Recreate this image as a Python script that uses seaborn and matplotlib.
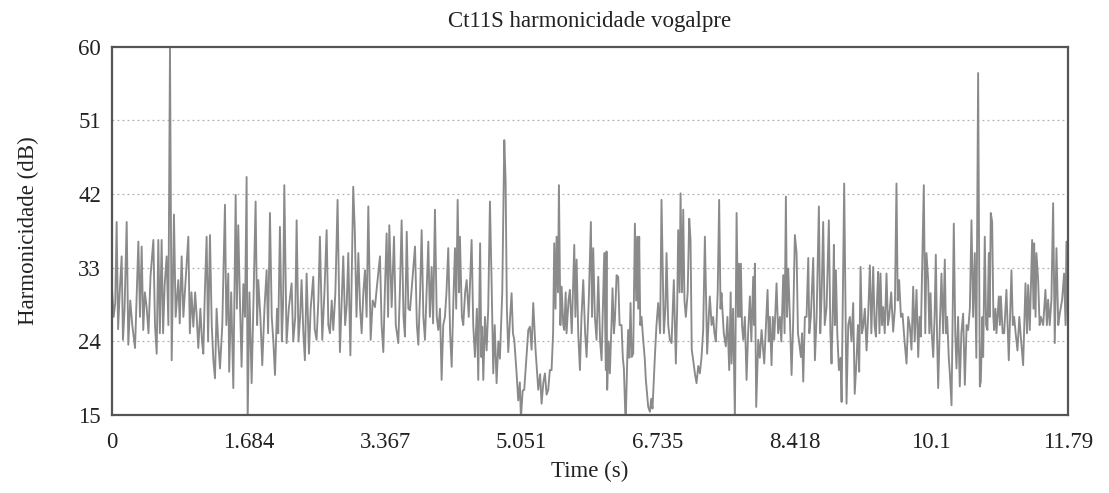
import matplotlib
matplotlib.use("Agg")
import matplotlib.pyplot as plt
import seaborn as sns
import pandas as pd

title = "Ct11S harmonicidade vogalpre"
x_label = "Time (s)"
y_label = "Harmonicidade (dB)"
x_ticks = [0, 1.684, 3.367, 5.051, 6.735, 8.418, 10.1, 11.79]
x_tick_labels = ["0", "1.684", "3.367", "5.051", "6.735", "8.418", "10.1", "11.79"]
y_ticks = [15, 24, 33, 42, 51, 60]

time_s = [
    0.000, 0.020, 0.040, 0.057, 0.075, 0.095, 0.119, 0.135, 0.155, 0.181, 0.201, 0.225, 0.250, 0.284,
    0.305, 0.325, 0.345, 0.366, 0.385, 0.405, 0.427, 0.450, 0.475, 0.510, 0.530, 0.551, 0.571, 0.590,
    0.612, 0.630, 0.650, 0.674, 0.695, 0.715, 0.736, 0.764, 0.785, 0.818, 0.835, 0.859, 0.880, 0.905,
    0.941, 0.960, 0.980, 1.003, 1.025, 1.045, 1.064, 1.090, 1.110, 1.126, 1.145, 1.167, 1.185, 1.208,
    1.230, 1.250, 1.270, 1.290, 1.310, 1.332, 1.360, 1.393, 1.410, 1.434,
    1.445, 1.470, 1.496, 1.525, 1.540, 1.557, 1.575, 1.598, 1.620, 1.640, 1.660, 1.673, 1.695, 1.722,
    1.745, 1.771, 1.790, 1.804, 1.830, 1.853, 1.880, 1.907, 1.925, 1.948, 1.970, 1.990, 2.010, 2.035,
    2.050, 2.071, 2.095, 2.110, 2.125, 2.153, 2.180, 2.215, 2.235, 2.260, 2.277, 2.300, 2.320, 2.338,
    2.360, 2.379, 2.400, 2.429, 2.450, 2.482, 2.500, 2.523, 2.545, 2.564, 2.593, 2.620, 2.647, 2.668,
    2.688, 2.710, 2.729, 2.755, 2.782, 2.811, 2.830, 2.852, 2.875, 2.895, 2.914, 2.940, 2.975,
    2.995, 3.015, 3.038, 3.060, 3.079, 3.100, 3.120, 3.140, 3.161, 3.190, 3.215, 3.243, 3.270, 3.305,
    3.325, 3.346, 3.365, 3.387, 3.405, 3.420, 3.449, 3.478, 3.500, 3.531, 3.550, 3.572, 3.595, 3.613,
    3.635, 3.655, 3.675, 3.700, 3.737, 3.760, 3.778, 3.800, 3.819, 3.840, 3.860, 3.880, 3.901, 3.920,
    3.942, 3.960, 3.983, 4.005, 4.024, 4.045, 4.065, 4.085, 4.106, 4.125, 4.147, 4.170, 4.189, 4.210,
    4.230, 4.245, 4.263, 4.280, 4.291, 4.315, 4.332, 4.355, 4.374, 4.400, 4.435, 4.455, 4.476, 4.500,
    4.517,
    4.540, 4.555, 4.566, 4.579, 4.600, 4.620, 4.640, 4.661, 4.681, 4.702, 4.720, 4.743, 4.765, 4.784,
    4.813, 4.838, 4.854, 4.870, 4.887, 4.910, 4.928, 4.945, 4.961, 4.990, 5.010, 5.030, 5.043, 5.065,
    5.084, 5.110, 5.134, 5.154, 5.175, 5.195, 5.224, 5.257, 5.280, 5.298, 5.320, 5.339, 5.360, 5.380,
    5.400, 5.421, 5.440, 5.454, 5.470, 5.483, 5.500, 5.512, 5.530, 5.545, 5.565, 5.578, 5.595, 5.606,
    5.630, 5.647, 5.670, 5.701, 5.715, 5.730, 5.750, 5.771, 5.790, 5.812, 5.835, 5.853, 5.880, 5.906,
    5.920, 5.935, 5.955, 5.976, 5.997, 6.020, 6.038, 6.071,
    6.090, 6.099, 6.107, 6.125, 6.140, 6.160, 6.173, 6.190, 6.202, 6.223, 6.243, 6.260, 6.284, 6.300,
    6.313, 6.330, 6.338, 6.355, 6.366, 6.380, 6.395, 6.410, 6.428, 6.449, 6.465, 6.477, 6.490, 6.502,
    6.515, 6.531, 6.551, 6.570, 6.584, 6.600, 6.613, 6.634, 6.650, 6.666, 6.695, 6.715, 6.736, 6.760,
    6.777, 6.806, 6.825, 6.839, 6.860, 6.880, 6.901, 6.929, 6.954, 6.970, 6.983, 7.000, 7.012, 7.030,
    7.045, 7.060, 7.077, 7.100, 7.119, 7.135, 7.150, 7.168, 7.190, 7.209, 7.230, 7.250, 7.270, 7.291,
    7.312, 7.340, 7.360, 7.373, 7.395, 7.414, 7.430, 7.447, 7.470, 7.488, 7.505, 7.517, 7.545, 7.570,
    7.590, 7.612,
    7.630, 7.641, 7.660, 7.682, 7.703, 7.720, 7.732, 7.745, 7.756, 7.770, 7.785, 7.805, 7.826, 7.845,
    7.867, 7.885, 7.908, 7.920, 7.929, 7.945, 7.970, 7.990, 8.011, 8.030, 8.044, 8.065, 8.085, 8.100,
    8.114, 8.134, 8.150, 8.167, 8.196, 8.215, 8.237, 8.255, 8.278, 8.295, 8.311, 8.325, 8.340, 8.360,
    8.381, 8.400, 8.422, 8.443, 8.460, 8.471, 8.496, 8.510, 8.525, 8.545, 8.566, 8.587, 8.600, 8.619,
    8.648, 8.669, 8.690, 8.718, 8.735, 8.751, 8.771, 8.790, 8.813, 8.841, 8.860, 8.874, 8.890, 8.903,
    8.915, 8.928, 8.945, 8.965, 8.985, 8.998, 9.030, 9.059, 9.080, 9.100, 9.120, 9.141,
    9.160, 9.182, 9.200, 9.215, 9.232, 9.250, 9.264, 9.285, 9.306, 9.325, 9.347, 9.365, 9.388, 9.405,
    9.421, 9.435, 9.449, 9.465, 9.478, 9.495, 9.511, 9.530, 9.552, 9.570, 9.585, 9.610, 9.634, 9.655,
    9.675, 9.690, 9.708, 9.730, 9.749, 9.775, 9.799, 9.820, 9.840, 9.860, 9.881, 9.900, 9.922, 9.943,
    9.960, 9.975, 10.012, 10.030, 10.045, 10.066, 10.080, 10.095, 10.110, 10.128, 10.145, 10.160,
    10.175, 10.189, 10.210, 10.230, 10.250, 10.271, 10.285, 10.300, 10.320, 10.333, 10.354, 10.382,
    10.400, 10.415, 10.435, 10.456, 10.475, 10.497, 10.518, 10.540, 10.559, 10.580, 10.600, 10.620,
    10.641, 10.660, 10.682, 10.703,
    10.715, 10.735, 10.744, 10.764, 10.780, 10.797, 10.814, 10.825, 10.838, 10.855, 10.870, 10.879,
    10.895, 10.908, 10.937, 10.950, 10.962, 10.985, 11.003, 11.031, 11.060, 11.093, 11.110, 11.126,
    11.145, 11.167, 11.190, 11.208, 11.237, 11.266, 11.285, 11.299, 11.319, 11.348, 11.365, 11.373,
    11.390, 11.401, 11.422, 11.440, 11.455, 11.484, 11.512, 11.530, 11.545, 11.565, 11.586, 11.607,
    11.627, 11.648, 11.670, 11.689, 11.718, 11.742, 11.760, 11.771, 11.790,
]

harmonicity_db = [
    30.5, 27.0, 28.7, 38.6, 25.5, 30.0, 34.4, 24.2, 28.0, 38.6, 23.6, 29.0, 26.0, 23.2,
    30.0, 36.2, 27.0, 35.6, 25.4, 30.0, 28.2, 25.0, 32.0, 36.4, 26.0, 22.5, 36.4, 25.0,
    36.4, 25.0, 31.0, 34.4, 26.0, 60.0, 21.7, 39.5, 27.0, 31.5, 26.2, 34.4, 27.0, 31.0,
    36.8, 25.0, 30.0, 25.8, 30.0, 27.0, 23.2, 28.0, 24.0, 22.5, 30.0, 36.8, 24.0, 37.0,
    26.0, 21.7, 19.5, 28.0, 24.0, 20.7, 26.0, 40.7, 26.0, 32.3,
    20.3, 30.0, 18.3, 41.9, 28.0, 38.2, 30.0, 20.9, 31.0, 27.0, 44.1, 14.2, 30.0, 18.9,
    29.0, 41.1, 26.0, 31.5, 27.0, 21.1, 28.0, 32.7, 25.0, 39.7, 27.0, 24.0, 19.9, 28.0,
    25.0, 38.0, 24.0, 28.5, 43.1, 23.8, 28.0, 31.1, 24.0, 27.0, 38.8, 24.0, 27.0, 31.5,
    25.0, 21.7, 32.3, 22.5, 28.0, 31.9, 25.5, 24.2, 29.0, 36.8, 24.2, 30.0, 37.6, 26.0,
    25.0, 29.0, 25.4, 30.0, 41.3, 22.7, 28.0, 34.4, 26.0, 28.5, 34.8, 22.3, 42.9,
    37.4, 27.0, 34.8, 28.0, 25.0, 30.0, 32.7, 27.0, 40.5, 24.2, 29.0, 28.2, 31.0, 34.4,
    26.0, 22.7, 30.0, 37.2, 27.0, 38.2, 28.2, 36.8, 26.0, 23.8, 30.0, 38.8, 27.0, 24.6,
    37.4, 28.0, 27.8, 31.0, 35.6, 26.0, 23.6, 30.0, 37.6, 27.0, 24.2, 30.0, 36.2, 27.0,
    33.1, 26.2, 40.1, 27.0, 25.4, 28.0, 19.3, 26.0, 27.0, 30.0, 35.4, 25.0, 20.9, 29.0,
    35.4, 28.0, 41.3, 30.0, 36.8, 27.0, 26.0, 30.0, 31.5, 27.0, 36.4, 26.0, 22.1, 28.0,
    19.3,
    36.0, 22.1, 25.8, 19.3, 27.0, 22.9, 28.0, 41.1, 31.5, 20.1, 26.0, 18.9, 24.0, 21.9,
    30.0, 48.6, 43.7, 28.0, 22.7, 27.0, 29.9, 25.0, 24.2, 20.1, 16.8, 19.0, 14.6, 18.0,
    18.1, 22.0, 25.4, 25.8, 23.0, 28.7, 22.9, 18.1, 20.0, 16.4, 19.0, 20.1, 17.5, 18.1,
    20.5, 20.5, 25.0, 36.0, 28.0, 36.8, 30.0, 43.1, 26.0, 30.7, 26.0, 25.4, 30.0, 25.0,
    29.0, 30.3, 25.0, 35.8, 27.0, 34.0, 25.0, 20.5, 27.0, 31.5, 25.0, 22.1, 29.0, 38.6,
    27.0, 35.4, 27.0, 24.2, 31.9, 24.0, 21.7, 34.8,
    20.5, 35.0, 18.1, 24.0, 20.1, 26.0, 30.5, 25.0, 26.6, 32.1, 31.9, 26.0, 26.0, 22.0,
    20.7, 15.2, 15.2, 22.0, 25.4, 22.0, 28.7, 22.1, 22.5, 38.4, 29.0, 36.8, 28.0, 36.8,
    26.0, 27.0, 24.2, 22.0, 19.3, 17.5, 16.0, 15.4, 17.0, 15.8, 22.1, 26.0, 28.7, 25.0,
    41.3, 25.0, 28.0, 34.8, 26.0, 24.2, 23.8, 31.5, 21.3, 28.0, 37.6, 30.0, 42.1, 30.0,
    40.1, 29.0, 27.0, 30.0, 39.0, 36.4, 23.0, 21.7, 20.0, 18.9, 21.0, 20.1, 22.0, 25.4,
    36.8, 22.5, 27.0, 29.5, 26.0, 27.0, 25.0, 24.0, 30.0, 41.3, 28.0, 29.9, 25.0, 23.4,
    27.0, 20.5,
    30.0, 21.3, 28.0, 14.6, 39.7, 27.0, 33.5, 27.0, 33.5, 26.0, 24.2, 27.0, 19.3, 25.0,
    29.5, 24.0, 31.9, 26.0, 33.5, 16.0, 24.2, 22.0, 25.4, 23.0, 21.3, 26.0, 30.3, 24.0,
    27.0, 21.1, 27.0, 24.2, 31.1, 25.0, 27.0, 24.0, 32.1, 25.0, 41.7, 27.0, 32.9, 27.0,
    19.9, 26.0, 37.0, 34.8, 25.0, 24.2, 22.1, 25.0, 19.1, 27.0, 27.0, 34.2, 25.0, 27.0,
    34.2, 21.7, 27.0, 40.5, 25.0, 29.5, 38.6, 26.0, 28.2, 38.8, 25.0, 21.3, 28.0, 35.8,
    26.0, 32.7, 25.0, 20.5, 22.0, 16.6, 43.3, 16.4, 26.0, 27.0, 24.0, 28.7,
    17.6, 21.7, 26.0, 20.3, 33.1, 25.0, 25.8, 28.0, 22.9, 27.0, 33.3, 25.0, 33.1, 26.0,
    24.6, 29.0, 32.5, 25.0, 32.3, 26.0, 28.2, 25.0, 32.3, 26.0, 27.0, 30.0, 25.2, 28.0,
    43.3, 29.0, 31.5, 27.0, 27.4, 24.0, 21.3, 27.0, 25.8, 23.0, 30.7, 24.0, 30.3, 22.1,
    27.0, 24.6, 43.1, 25.0, 34.8, 31.5, 25.0, 29.9, 25.0, 22.1, 27.0, 34.6,
    25.0, 18.3, 26.0, 32.3, 25.0, 34.0, 25.0, 27.0, 22.0, 20.1, 16.2, 38.4,
    25.0, 20.7, 27.0, 18.5, 25.0, 27.4, 18.7, 26.0, 25.4, 28.0, 38.8, 27.0,
    34.8, 22.0, 56.8, 18.5,
    19.1, 27.0, 22.1, 36.8, 26.0, 25.4, 34.8, 27.0, 39.7, 38.6, 27.0, 25.4,
    28.0, 25.0, 29.5, 26.0, 29.5, 25.0, 25.0, 30.3, 21.7, 32.7, 26.0, 27.0,
    25.0, 22.9, 27.0, 24.6, 21.1, 31.1, 25.0, 30.9, 25.4, 36.4, 28.0, 36.0,
    27.0, 34.8, 31.5, 26.0, 27.0, 26.0, 30.3, 26.0, 29.1, 26.0, 29.1, 40.9,
    23.8, 35.4, 26.0, 27.4, 29.1, 32.3, 26.0, 36.2, 25.4,
]

df = pd.DataFrame({"time": time_s, "hnr": harmonicity_db})

sns.set_theme(style="white")
plt.rcParams["font.family"] = ["Liberation Serif", "DejaVu Serif"]

fig = plt.figure(figsize=(11.09, 4.93), dpi=100)
ax = fig.add_axes([0.101, 0.158, 0.862, 0.747])

sns.lineplot(data=df, x="time", y="hnr", ax=ax, estimator=None, sort=False,
             color="#8a8a8a", linewidth=1.35)

ax.set_xlim(0, 11.79)
ax.set_ylim(15, 60)
ax.set_xticks(x_ticks)
ax.set_xticklabels(x_tick_labels)
ax.set_yticks(y_ticks)
ax.set_yticklabels([str(v) for v in y_ticks])
for v in y_ticks[1:-1]:
    ax.axhline(v, color="#b0b0b0", linestyle=(0, (1.5, 2.5)), linewidth=0.9, zorder=0)

ax.tick_params(axis="both", direction="out", length=5, width=1.2, colors="#444444",
               labelsize=16.5, labelcolor="#222222")
ax.tick_params(axis="x", pad=7)
ax.tick_params(axis="y", pad=3)
for s in ax.spines.values():
    s.set_color("#555555")
    s.set_linewidth(1.6)

ax.set_title(title, fontsize=16.5, color="#222222", pad=14)
ax.set_xlabel(x_label, fontsize=16.5, color="#222222", labelpad=6)
ax.set_ylabel(y_label, fontsize=16.5, color="#222222", labelpad=28)

fig.savefig("out.png", dpi=100)
